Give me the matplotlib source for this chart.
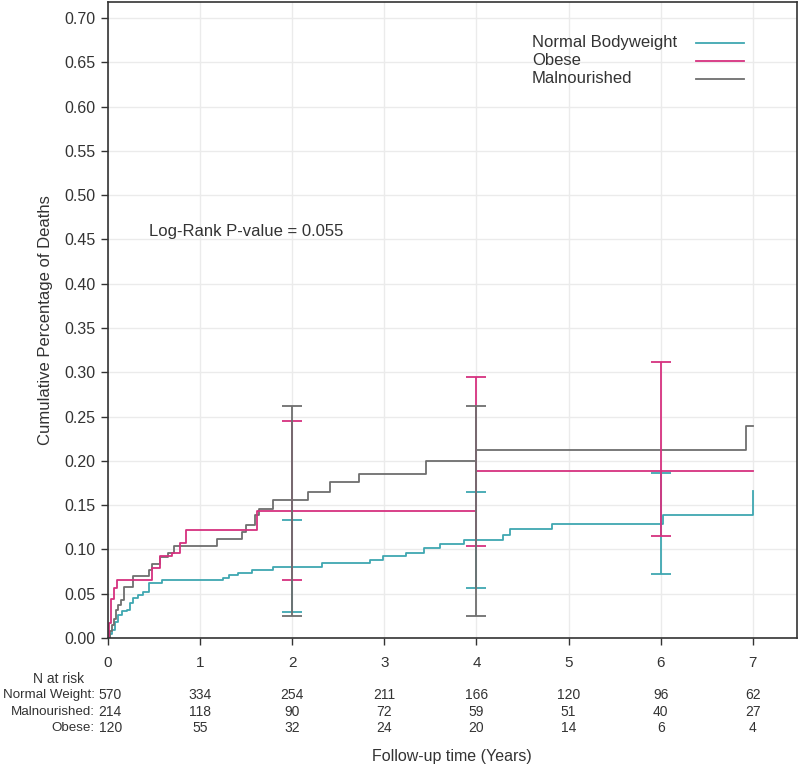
import matplotlib
matplotlib.use("Agg")
import matplotlib.pyplot as plt
import matplotlib.transforms as mtransforms
from matplotlib import font_manager
from matplotlib.lines import Line2D
import numpy as np

# ---- data ----
normal_t = [0, 0.02, 0.04, 0.076, 0.112, 0.149, 0.203, 0.239, 0.275, 0.329, 0.383, 0.448, 0.583,
            1.25, 1.31, 1.41, 1.56, 1.79, 2.32, 2.84, 2.99, 3.24, 3.43, 3.60, 3.87,
            4.29, 4.36, 4.82, 6.03, 7.0]
normal_y = [0, 0.005, 0.009, 0.018, 0.026, 0.030, 0.032, 0.039, 0.045, 0.0486, 0.052, 0.062, 0.065,
            0.0675, 0.0713, 0.0739, 0.0769, 0.0807, 0.0845, 0.0882, 0.093, 0.0965, 0.1014, 0.106, 0.111,
            0.1165, 0.123, 0.129, 0.139, 0.1655]

obese_t = [0, 0.01, 0.03, 0.06, 0.094, 0.48, 0.565, 0.69, 0.78, 0.85, 1.62, 4.0, 7.0]
obese_y = [0, 0.017, 0.0437, 0.056, 0.066, 0.0788, 0.0928, 0.0958, 0.107, 0.1214, 0.1429, 0.189, 0.189]

mal_t = [0, 0.02, 0.04, 0.06, 0.087, 0.11, 0.137, 0.174, 0.275, 0.45, 0.474, 0.565, 0.655, 0.717,
         1.18, 1.46, 1.50, 1.60, 1.64, 1.79, 2.17, 2.41, 2.72, 3.45, 4.0, 6.93, 7.0]
mal_y = [0, 0.008, 0.015, 0.022, 0.0317, 0.037, 0.043, 0.0573, 0.070, 0.0769, 0.0833, 0.0913, 0.0958, 0.104,
         0.1116, 0.120, 0.128, 0.139, 0.1456, 0.156, 0.1648, 0.176, 0.1855, 0.1995, 0.212, 0.2398, 0.2398]

# confidence bars
normal_ci_t = [2, 4, 6]
normal_lo = [0.029, 0.056, 0.072]
normal_hi = [0.133, 0.165, 0.186]
obese_ci_t = [2, 4, 6]
obese_lo = [0.065, 0.1033, 0.1146]
obese_hi = [0.2447, 0.2945, 0.3115]
mal_ci_t = [2, 4]
mal_lo = [0.0253, 0.0249]
mal_hi = [0.2617, 0.2617]

# numbers at risk
risk_times = [0, 1, 2, 3, 4, 5, 6, 7]
risk_labels = ["Normal Weight:", "Malnourished:", "Obese:"]
risk_normal = [570, 334, 254, 211, 166, 120, 96, 62]
risk_mal = [214, 118, 90, 72, 59, 51, 40, 27]
risk_obese = [120, 55, 32, 24, 20, 14, 6, 4]

legend_labels = ["Normal Bodyweight", "Obese", "Malnourished"]
pvalue_text = "Log-Rank P-value = 0.055"

c_normal = "#3fa7b1"
c_obese = "#d6317f"
c_mal = "#6e6e6e"
txt = "#333333"

names = {f.name for f in font_manager.fontManager.ttflist}
main_font = "Liberation Sans" if "Liberation Sans" in names else "DejaVu Sans"
plt.rcParams["font.family"] = main_font

W, H = 800, 767
fig = plt.figure(figsize=(8, 7.67), dpi=100)
ax = fig.add_axes([108 / W, 1 - 638 / H, (797 - 108) / W, 636 / H])

ax.set_xlim(0, 7.48)
ax.set_ylim(0, 0.718)
ax.grid(True, color="#ebebeb", linewidth=1.0)
ax.set_axisbelow(True)

lw = 1.3
ax.step(normal_t, normal_y, where="post", color=c_normal, lw=lw)
ax.step(mal_t, mal_y, where="post", color=c_mal, lw=lw)
ax.step(obese_t, obese_y, where="post", color=c_obese, lw=lw)

def ci(ts, lo, hi, color):
    lo = np.array(lo); hi = np.array(hi)
    ax.errorbar(ts, (lo + hi) / 2, yerr=(hi - lo) / 2, fmt="none", ecolor=color,
                elinewidth=lw, capthick=lw, capsize=7.5)

ci(normal_ci_t, normal_lo, normal_hi, c_normal)
ci(obese_ci_t, obese_lo, obese_hi, c_obese)
ci(mal_ci_t, mal_lo, mal_hi, c_mal)

ax.set_yticks(np.arange(0, 0.701, 0.05))
ax.set_yticklabels([f"{v:.2f}" for v in np.arange(0, 0.701, 0.05)])
ax.set_xticks(risk_times)
ax.tick_params(axis="both", direction="out", length=5, width=1, color="#333333",
               labelcolor=txt, labelsize=11.5)
ax.tick_params(axis="x", pad=8, labelsize=11)
ax.tick_params(axis="y", pad=4)
for s in ax.spines.values():
    s.set_color("#333333")
    s.set_linewidth(1.2)

fig.text(46 / W, 1 - 320 / H, "Cumulative Percentage of Deaths", rotation=90,
         ha="center", va="center", fontsize=12, color=txt)

ax.text(0.445, 0.4585, pvalue_text, ha="left", va="center", fontsize=12, color=txt)

# legend: text on the left, line key on the right
leg_colors = [c_normal, c_obese, c_mal]
leg_y = [42.5, 60.5, 78.5]
for lab, c, py in zip(legend_labels, leg_colors, leg_y):
    fig.text(532 / W, 1 - py / H, lab, ha="left", va="center", fontsize=12, color=txt)
    fig.add_artist(Line2D([696 / W, 744 / W], [1 - py / H, 1 - py / H], color=c, lw=lw,
                          transform=fig.transFigure))

# risk table
tr = mtransforms.blended_transform_factory(ax.transData, fig.transFigure)
fig.text(59 / W, 1 - 679 / H, "N at risk", ha="center", va="center", fontsize=10,
         color=txt)
rows = [risk_normal, risk_mal, risk_obese]
row_y = [695, 712, 728]
for lab, vals, py in zip(risk_labels, rows, row_y):
    fig.text(95 / W, 1 - py / H, lab, ha="right", va="center", fontsize=9.6, color=txt)
    for t, v in zip(risk_times, vals):
        ax.text(t + (0.025 if t == 0 else 0), 1 - py / H, str(v), transform=tr,
                ha="center", va="center", fontsize=10, color=txt)

fig.text(452 / W, 1 - 757 / H, "Follow-up time (Years)", ha="center", va="center",
         fontsize=11.5, color=txt)

fig.savefig("out.png", dpi=100)
